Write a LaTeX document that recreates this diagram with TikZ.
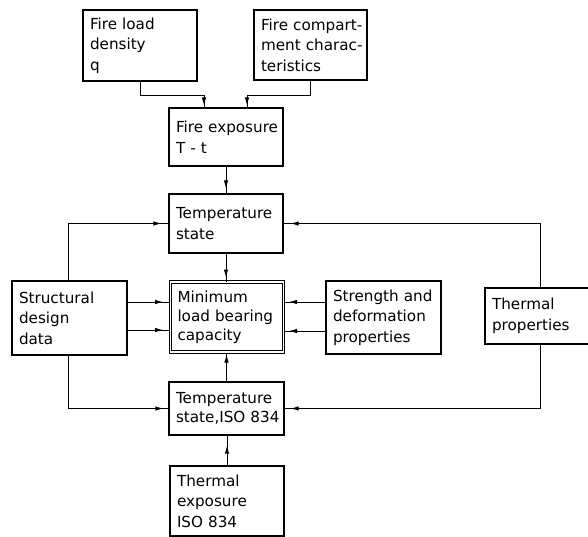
\documentclass[tikz,border=0pt]{standalone}
\usepackage{fontspec}
\setmainfont{DejaVu Sans}
\usetikzlibrary{arrows.meta,decorations.markings}
\hyphenpenalty=10000\relax
\exhyphenpenalty=10000\relax
\begin{document}
\begin{tikzpicture}[x=1pt,y=-1pt,
  box/.style={draw, line width=1.2pt, align=left, inner xsep=7pt, inner ysep=2pt,
    font=\fontsize{15.2}{20.5}\selectfont},
  dbox/.style={box, double, double distance=1.6pt, line width=1pt},
  conn/.style={draw, line width=0.9pt},
  arrowat/.style={postaction={decorate}, decoration={markings,
    mark=at position -#1 with {\arrow{Latex[length=8pt,width=4.5pt]}}}}
]
\useasboundingbox (0,0) rectangle (588,537);

\node[box, minimum width=114pt, minimum height=71pt, text width=100pt] (fl) at (140,45.5) {Fire\nobreakspace load\\density\\q};
\node[box, minimum width=113pt, minimum height=70pt, text width=99pt] (fc) at (310.5,45) {Fire\nobreakspace compart-\\ment\nobreakspace charac-\\teristics};
\node[box, minimum width=114pt, minimum height=58pt, text width=100pt] (fe) at (226,137) {Fire\nobreakspace exposure\\T - t};
\node[box, minimum width=114pt, minimum height=59pt, text width=100pt] (ts) at (226,223.5) {Temperature\\state};
\node[box, minimum width=115pt, minimum height=74pt, text width=101pt] (sd) at (69.5,318) {Structural\\design\\data};
\node[dbox, minimum width=113pt, minimum height=70pt, text width=99pt, font=\fontsize{15.2}{19}\selectfont] (mc) at (227,317) {Minimum\\load\nobreakspace bearing\\capacity};
\node[box, minimum width=115pt, minimum height=73pt, text width=101pt] (sp) at (383.5,317.5) {Strength\nobreakspace and\\deformation\\properties};
\node[box, minimum width=115pt, minimum height=56pt, text width=101pt] (tp) at (542.5,316) {Thermal\\properties};
\node[box, minimum width=115pt, minimum height=53pt, text width=101pt, font=\fontsize{15.2}{19}\selectfont] (tiso) at (226.5,408.5) {Temperature\\state,ISO\nobreakspace 834};
\node[box, minimum width=114pt, minimum height=70pt, text width=100pt] (tex) at (227,501) {Thermal\\exposure\\ISO\nobreakspace 834};

% connectors
\draw[conn, arrowat=2pt] (fl.south) -- ++(0,14) -| ([xshift=-22pt]fe.north);
\draw[conn, arrowat=2pt] (fc.south) -- ++(0,15) -| ([xshift=21pt]fe.north);
\draw[conn, arrowat=5pt] (fe.south) -- (ts.north);
\draw[conn, arrowat=4pt] (ts.south) -- (ts.south |- mc.north);
\draw[conn, arrowat=7pt] ([xshift=-1.5pt]sd.north) |- (ts.west);
\draw[conn, arrowat=7pt] ([xshift=-2.5pt]tp.north) |- (ts.east);
\draw[conn, arrowat=7pt] ([yshift=16pt]sd.east) -- ([yshift=16pt]sd.east -| mc.west);
\draw[conn, arrowat=7pt] ([yshift=-12pt]sd.east) -- ([yshift=-12pt]sd.east -| mc.west);
\draw[conn, arrowat=5pt] ([yshift=15.5pt]sp.west) -- ([yshift=15.5pt]sp.west -| mc.east);
\draw[conn, arrowat=5pt] ([yshift=-13.5pt]sp.west) -- ([yshift=-13.5pt]sp.west -| mc.east);
\draw[conn, arrowat=5pt] ([xshift=-1.5pt]sd.south) |- (tiso.west);
\draw[conn, arrowat=6pt] ([xshift=-2.5pt]tp.south) |- (tiso.east);
\draw[conn, arrowat=10pt] (tex.north) -- (tex.north |- tiso.south);
\draw[conn, arrowat=2pt] (tiso.north) -- (tiso.north |- mc.south);
\end{tikzpicture}
\end{document}
